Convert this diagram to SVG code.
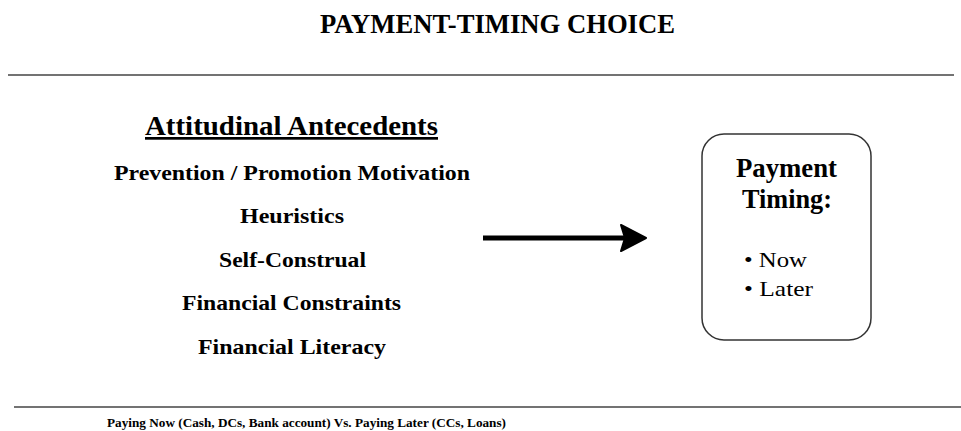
<svg xmlns="http://www.w3.org/2000/svg" width="961" height="431" viewBox="0 0 961 431">
  <style>
    text { font-family: "Liberation Serif", "Times New Roman", serif; fill: #000; }
    .title { font-size: 27px; font-weight: bold; }
    .head { font-size: 27px; font-weight: bold; text-decoration: underline; }
    .item { font-size: 22px; font-weight: bold; }
    .boxhead { font-size: 27px; font-weight: bold; }
    .bullet { font-size: 21px; }
    .foot { font-size: 12.5px; font-weight: bold; }
    .rule { stroke: #444; stroke-width: 1.5; }
  </style>
  <rect width="961" height="431" fill="#fff"/>

  <text class="title" x="320" y="33" textLength="355" lengthAdjust="spacingAndGlyphs">PAYMENT-TIMING CHOICE</text>
  <line class="rule" x1="8" y1="75" x2="954" y2="75"/>

  <g id="antecedents">
    <text class="head" x="145" y="135" textLength="293" lengthAdjust="spacingAndGlyphs">Attitudinal Antecedents</text>
    <text class="item" x="114" y="180" textLength="356" lengthAdjust="spacingAndGlyphs">Prevention / Promotion Motivation</text>
    <text class="item" x="240" y="223" textLength="104" lengthAdjust="spacingAndGlyphs">Heuristics</text>
    <text class="item" x="219" y="267" textLength="147" lengthAdjust="spacingAndGlyphs">Self-Construal</text>
    <text class="item" x="182" y="310" textLength="219" lengthAdjust="spacingAndGlyphs">Financial Constraints</text>
    <text class="item" x="198" y="354" textLength="188" lengthAdjust="spacingAndGlyphs">Financial Literacy</text>
  </g>

  <g id="connectors">
    <line x1="483" y1="238" x2="640" y2="238" stroke="#000" stroke-width="5"/>
    <path d="M621,225 L646,238 L621,251 L625,238 Z" fill="#000" stroke="#000" stroke-width="2" stroke-linejoin="round"/>
  </g>

  <g id="payment-timing">
    <rect x="702" y="134" width="169" height="206" rx="22" ry="22" fill="#fff" stroke="#333" stroke-width="1.5"/>
    <text class="boxhead" x="736" y="177" textLength="101" lengthAdjust="spacingAndGlyphs">Payment</text>
    <text class="boxhead" x="742" y="208" textLength="90" lengthAdjust="spacingAndGlyphs">Timing:</text>
    <text class="bullet" x="744" y="267" textLength="63" lengthAdjust="spacingAndGlyphs">• Now</text>
    <text class="bullet" x="744" y="296" textLength="69" lengthAdjust="spacingAndGlyphs">• Later</text>
  </g>

  <line class="rule" x1="14" y1="407" x2="961" y2="407"/>
  <text class="foot" x="107" y="427" textLength="399" lengthAdjust="spacingAndGlyphs">Paying Now (Cash, DCs, Bank account) Vs. Paying Later (CCs, Loans)</text>
</svg>
